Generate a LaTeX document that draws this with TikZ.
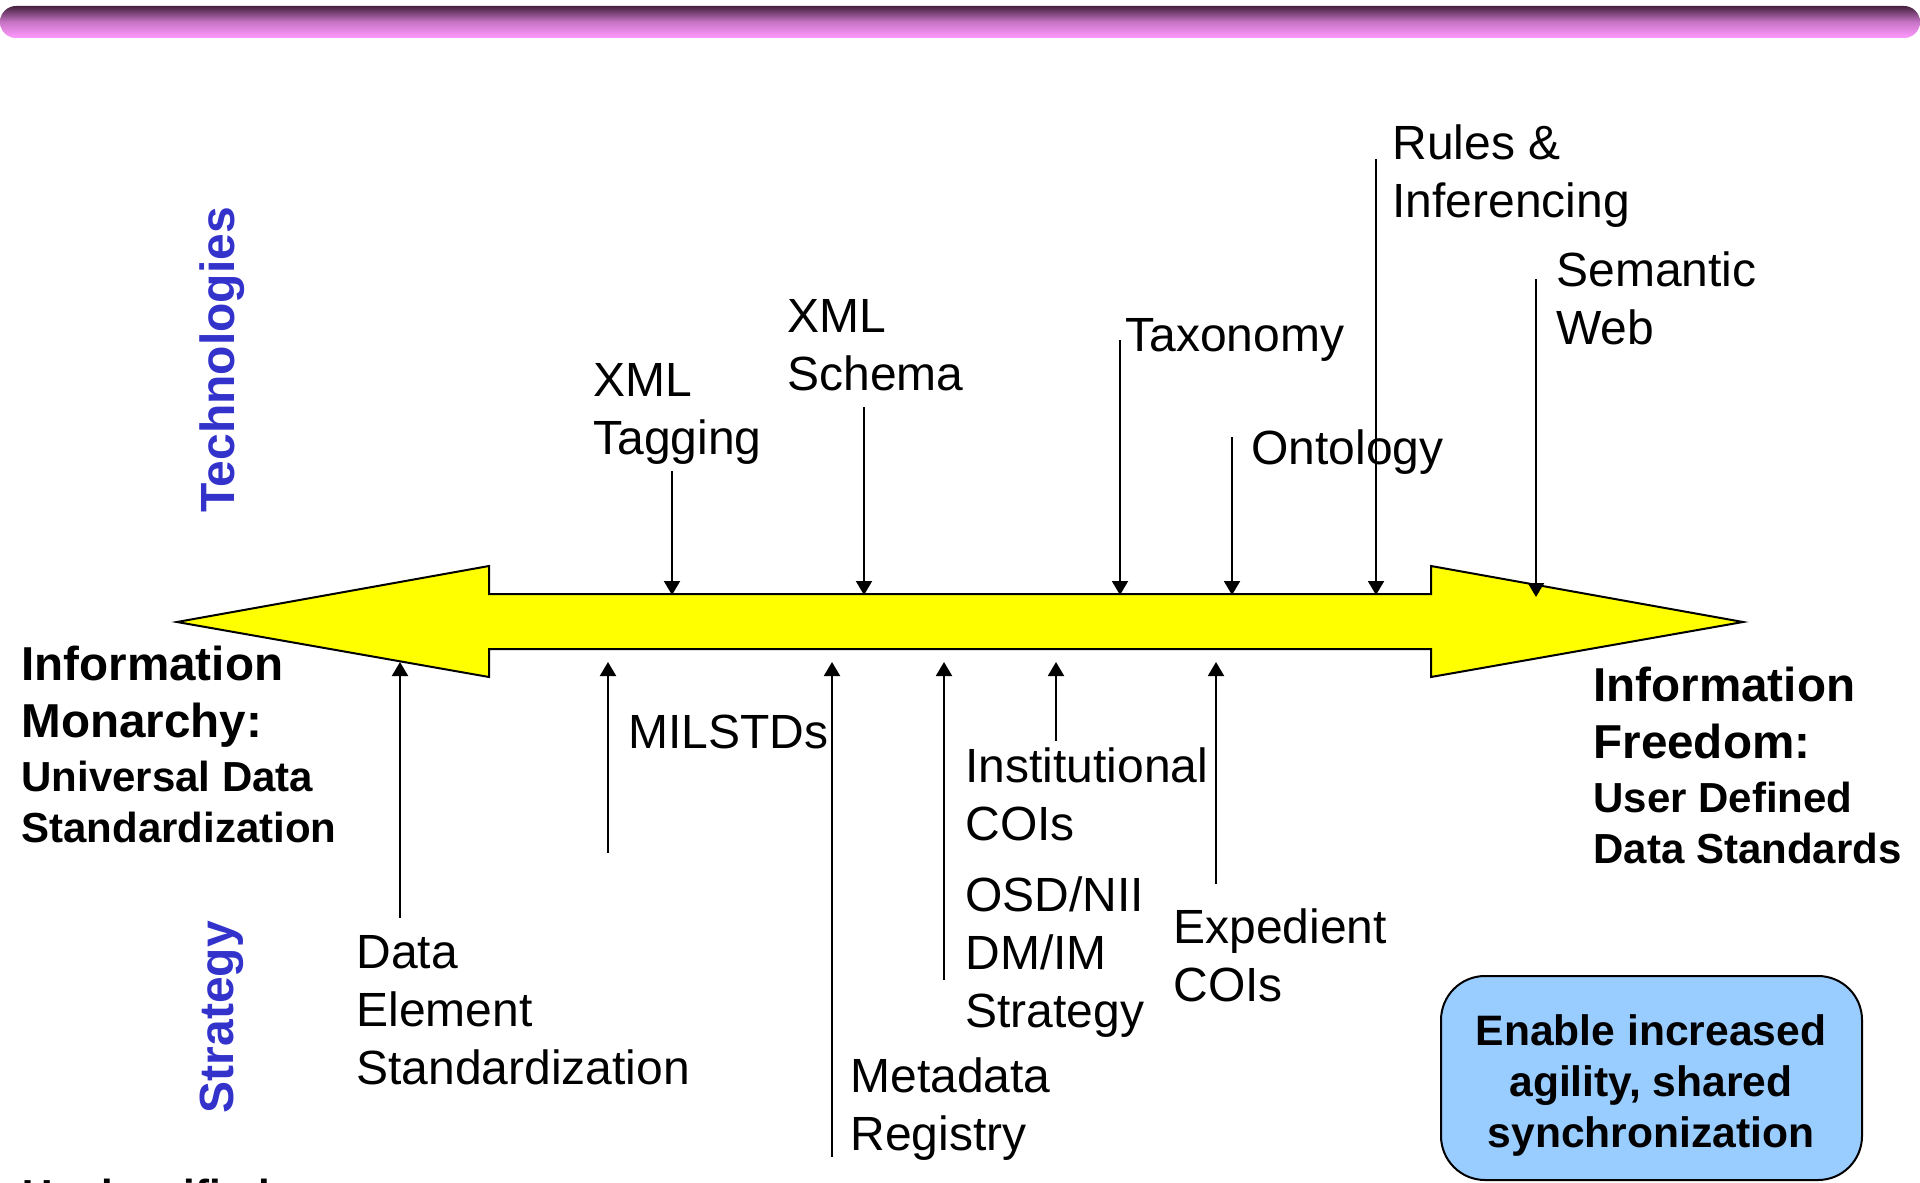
\documentclass[tikz,border=0pt]{standalone}
\usepackage{fontspec}
\setmainfont{Liberation Sans}
\usetikzlibrary{arrows.meta}
\definecolor{arrowyellow}{HTML}{FFFF00}
\definecolor{boxblue}{HTML}{99CCFF}
\definecolor{labelblue}{HTML}{3333CC}
\definecolor{bartop}{HTML}{45203F}
\definecolor{barbottom}{HTML}{FF99FF}
\tikzset{
  lbl/.style={anchor=north west, inner sep=0pt, align=left, font=\fontsize{24}{29}\selectfont},
  bigbold/.style={anchor=north west, inner sep=0pt, align=left, font=\bfseries\fontsize{23.8}{28.5}\selectfont},
  smallbold/.style={anchor=north west, inner sep=0pt, align=left, font=\bfseries\fontsize{21}{25.5}\selectfont},
  side/.style={rotate=90, inner sep=0pt, text=labelblue, font=\bfseries\fontsize{24}{28}\selectfont},
  conn/.style={line width=1pt, -{Triangle[length=7pt,width=8pt]}},
}
\begin{document}
\begin{tikzpicture}[x=0.5pt,y=-0.5pt]
\useasboundingbox (0,0) rectangle (1920,1182);
% top bar
\shade[top color=bartop, bottom color=barbottom, middle color=barbottom!70!bartop, rounded corners=8pt] (0,6) rectangle (1920,38);
% big double arrow
\draw[fill=arrowyellow, line width=1pt, line join=miter]
  (177,622) -- (489,566) -- (489,594) -- (1431,594) -- (1431,566) -- (1743,622)
  -- (1431,677) -- (1431,649) -- (489,649) -- (489,677) -- cycle;
% side labels
\node[side] (tech) at (222,360) {Technologies};
\node[side] (strat) at (222,1017) {Strategy};
% technology labels
\node[lbl] (rules) at (1392,124) {Rules \&\\Inferencing};
\node[lbl] (sem) at (1556,251) {Semantic\\Web};
\node[lbl] (schema) at (787,299) {XML\\Schema};
\node[lbl] (tax) at (1125,318) {Taxonomy};
\node[lbl] (tag) at (593,363) {XML\\Tagging};
\node[lbl] (onto) at (1251,429) {Ontology};
% strategy labels
\node[lbl] (mil) at (628,715) {MILSTDs};
\node[lbl] (inst) at (965,747) {Institutional\\COIs};
\node[lbl] (osd) at (965,876) {OSD/NII\\DM/IM\\Strategy};
\node[lbl] (exp) at (1173,908) {Expedient\\COIs};
\node[lbl] (data) at (356,935) {Data\\Element\\Standardization};
\node[lbl] (meta) at (850,1057) {Metadata\\Registry};
% end labels
\node[bigbold] (mon) at (21,646) {Information\\Monarchy:};
\node[smallbold] (univ) at (21,761) {Universal Data\\Standardization};
\node[bigbold] (free) at (1593,667) {Information\\Freedom:};
\node[smallbold] (user) at (1593,782) {User Defined\\Data Standards};
% blue box
\node[draw, fill=boxblue, line width=1pt, rounded corners=22pt, minimum width=210.5pt, minimum height=102pt, inner sep=0pt] (goal) at (1651.5,1078) {};
\node[inner sep=0pt, align=center, font=\bfseries\fontsize{21.3}{25.5}\selectfont] (goaltext) at (1651,1085) {Enable increased\\agility, shared\\synchronization};
% classification mark (cut off at the bottom edge)
\node[smallbold] (uncl) at (22,1179) {Unclassified};
% connector end points
\coordinate (tagS) at (672,471);   \coordinate (tagE) at (672,595);
\coordinate (schS) at (864,407);   \coordinate (schE) at (864,595);
\coordinate (taxS) at (1120,340);  \coordinate (taxE) at (1120,595);
\coordinate (ontS) at (1232,437);  \coordinate (ontE) at (1232,595);
\coordinate (rulS) at (1376,159);  \coordinate (rulE) at (1376,595);
\coordinate (semS) at (1536,279);  \coordinate (semE) at (1536,597);
\coordinate (datS) at (400,918);   \coordinate (datE) at (400,662);
\coordinate (milS) at (608,853);   \coordinate (milE) at (608,662);
\coordinate (metS) at (832,1157);  \coordinate (metE) at (832,662);
\coordinate (osdS) at (944,980);   \coordinate (osdE) at (944,662);
\coordinate (insS) at (1056,741);  \coordinate (insE) at (1056,662);
\coordinate (expS) at (1216,884);  \coordinate (expE) at (1216,662);
\foreach \c in {tag,sch,tax,ont,rul,sem,dat,mil,met,osd,ins,exp}
  \draw[conn] (\c S) -- (\c E);
\end{tikzpicture}
\end{document}
